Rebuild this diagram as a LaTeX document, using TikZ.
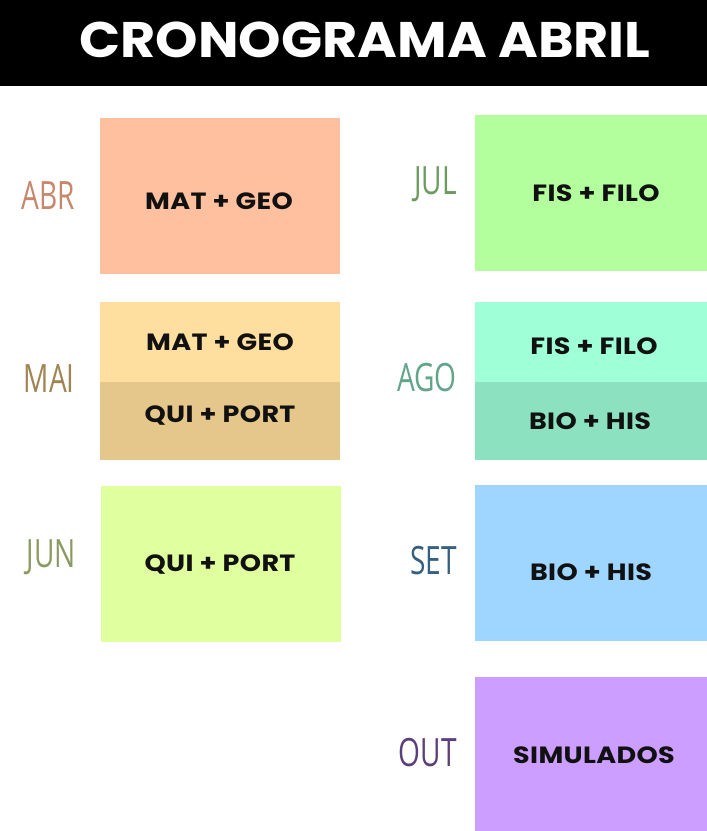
\documentclass[tikz,border=0pt]{standalone}
\usepackage{fontspec}
\setmainfont{Poppins}
\newfontfamily\titlefont[FakeStretch=1.08]{Poppins}
\newfontfamily\cellfont[FakeStretch=1.15, LetterSpace=1.5]{Poppins}
\newfontfamily\labfont[FakeStretch=0.72]{Open Sans}
\definecolor{cABR}{HTML}{FFC09F}
\definecolor{cMAIa}{HTML}{FFDF9F}
\definecolor{cMAIb}{HTML}{E6C78B}
\definecolor{cJUN}{HTML}{E0FF9E}
\definecolor{cJUL}{HTML}{B3FF9E}
\definecolor{cAGOa}{HTML}{9FFFD7}
\definecolor{cAGOb}{HTML}{8CE1C0}
\definecolor{cSET}{HTML}{9FD6FF}
\definecolor{cOUT}{HTML}{CC9EFF}
\definecolor{lABR}{HTML}{C7876A}
\definecolor{lMAI}{HTML}{9E8553}
\definecolor{lJUN}{HTML}{8A9B62}
\definecolor{lJUL}{HTML}{6B9B5D}
\definecolor{lAGO}{HTML}{62A58B}
\definecolor{lSET}{HTML}{36607F}
\definecolor{lOUT}{HTML}{5C3F7A}
\definecolor{txt}{HTML}{111111}
\tikzset{
  cell/.style={draw=none, inner sep=0pt, minimum width=240bp, minimum height=#1},
  celltxt/.style={inner sep=0pt, text=txt, font=\cellfont\fontsize{23.5bp}{26bp}\selectfont\bfseries},
  month/.style={inner sep=0pt, anchor=east, font=\labfont\fontsize{39bp}{40bp}\selectfont},
}
\begin{document}
\begin{tikzpicture}[x=1bp,y=-1bp]
\useasboundingbox (0,0) rectangle (707,831);
\fill[white] (0,0) rectangle (707,831);
% header
\node[fill=black, inner sep=0pt, minimum width=707bp, minimum height=86bp, anchor=north west] (head) at (0,0) {};
\node[text=white, inner sep=0pt, font=\titlefont\fontsize{50bp}{52bp}\selectfont\bfseries] (title) at (365,40) {CRONOGRAMA ABRIL};
% left column
\node[cell=156bp, fill=cABR] (abr) at (220,196) {};
\node[celltxt] (abrt) at (219,201) {MAT + GEO};
\node[month, text=lABR] (abrl) at (75,196) {ABR};

\node[cell=80bp, fill=cMAIa] (maia) at (220,342) {};
\node[cell=78bp, fill=cMAIb] (maib) at (220,421) {};
\node[celltxt] (maiat) at (220,342) {MAT + GEO};
\node[celltxt] (maibt) at (220,416) {QUI + PORT};
\node[month, text=lMAI] (mail) at (75,379) {MAI};

\node[cell=156bp, fill=cJUN] (jun) at (221,564) {};
\node[celltxt] (junt) at (220,565) {QUI + PORT};
\node[month, text=lJUN] (junl) at (76,557) {JUN};
% right column
\node[cell=156bp, fill=cJUL, minimum width=232bp] (jul) at (591,193) {};
\node[celltxt] (jult) at (596,193) {FIS + FILO};
\node[month, text=lJUL] (jull) at (457,184) {JUL};

\node[cell=80bp, fill=cAGOa, minimum width=232bp] (agoa) at (591,342) {};
\node[cell=78bp, fill=cAGOb, minimum width=232bp] (agob) at (591,421) {};
\node[celltxt] (agoat) at (594,346) {FIS + FILO};
\node[celltxt] (agobt) at (590,421) {BIO + HIS};
\node[month, text=lAGO] (agol) at (457,378) {AGO};

\node[cell=156bp, fill=cSET, minimum width=232bp] (set) at (591,563) {};
\node[celltxt] (sett) at (591,572) {BIO + HIS};
\node[month, text=lSET] (setl) at (457,561) {SET};

\node[cell=154bp, fill=cOUT, minimum width=232bp] (out) at (591,754) {};
\node[celltxt] (outt) at (594,755) {SIMULADOS};
\node[month, text=lOUT] (outl) at (457,753) {OUT};
\end{tikzpicture}
\end{document}
